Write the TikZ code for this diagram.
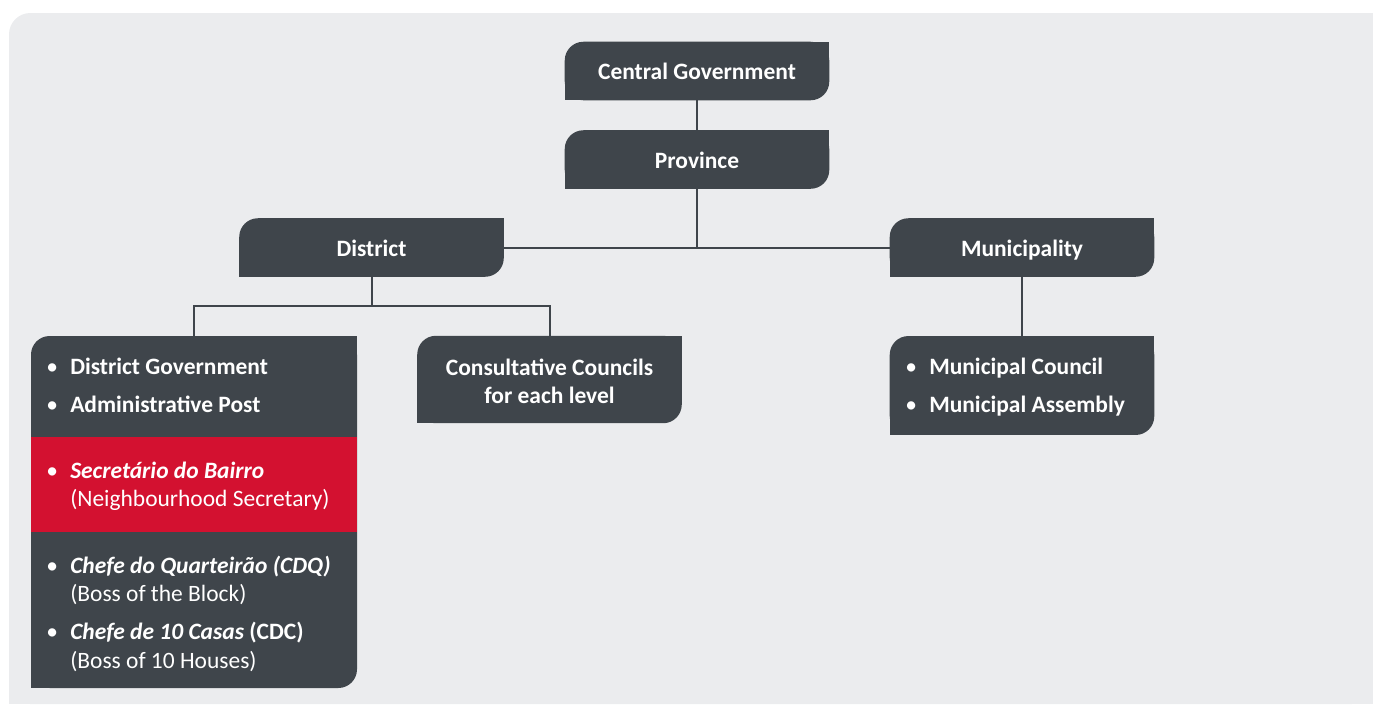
\documentclass[tikz,border=0pt]{standalone}
\usepackage{fontspec}
\setmainfont{Carlito}

\definecolor{boxgrey}{HTML}{3F454B}
\definecolor{bandred}{HTML}{D31130}
\definecolor{panelgrey}{HTML}{EBECEE}

\newcommand{\chartfont}{\fontsize{17.6pt}{21.2pt}\selectfont}
\newcommand{\bul}{\makebox[27pt]{\textbullet}}
% square off the top right and bottom left corners of a box
\newcommand{\sharpen}[1]{%
  \fill[boxgrey] (#1.north east) rectangle ++(-16pt,-16pt);
  \fill[boxgrey] (#1.south west) rectangle ++(16pt,16pt);}

\tikzset{
  tab/.style={fill=boxgrey, rounded corners=14pt, text=white, font=\chartfont\bfseries,
    minimum width=198.4pt, minimum height=43.9pt, inner sep=0pt, outer sep=0pt,
    text height=13pt, text depth=0pt},
  list/.style={text=white, font=\chartfont, inner sep=0pt, anchor=north west},
  link/.style={draw=boxgrey, line width=1.5pt},
}

\begin{document}
\begin{tikzpicture}[x=0.75pt, y=-0.75pt]
	\useasboundingbox (0,0) rectangle (1373,704);
	% panel
	\fill[panelgrey, rounded corners=16pt] (9,13) rectangle (1373,704);
	\fill[panelgrey] (1373,13) rectangle ++(-20pt,-20pt);
	\fill[panelgrey] (9,704) rectangle ++(20pt,20pt);
	\fill[panelgrey] (1373,704) rectangle ++(-20pt,20pt);

	% levels
	\node[tab] (central) at (697,71) {Central Government};
	\node[tab] (province) at (697,159.5) {Province};
	\node[tab] (district) at (371.5,247.5) {District};
	\node[tab] (municipality) at (1022,247.5) {Municipality};
	\node[tab, minimum width=244.5pt, minimum height=264pt] (local) at (194,512) {};
	\node[tab, minimum height=65.6pt] (consult) at (549.5,379.5) {};
	\node[tab, minimum height=74.2pt] (municipal) at (1022,385.5) {};
	\foreach \n in {central,province,district,municipality,local,consult,municipal}
		{\sharpen{\n}}

	% red band
	\node[fill=bandred, minimum width=244.5pt, minimum height=71.2pt, inner sep=0pt, outer sep=0pt] (bairro) at (194,484.5) {};

	% connectors
	\coordinate (fork) at (371.5,306);
	\draw[link] (central) -- (province);
	\draw[link] (province) -- (province |- district);
	\draw[link] (district) -- (municipality);
	\draw[link] (district) -- (fork);
	\draw[link] (local.north) |- (fork) -| (consult.north);
	\draw[link] (municipality) -- (municipal);

	% texts
	\node[list] (govpost) at (34,354.2) {\begin{tabular}{@{}l@{}l@{}}
		\bul & \textbf{District Government}\\[7.5pt]
		\bul & \textbf{Administrative Post}
	\end{tabular}};
	\node[list] (secretary) at (34,458) {\begin{tabular}{@{}l@{}l@{}}
		\bul & \textbf{\textit{Secretário do Bairro}}\\
		& (Neighbourhood Secretary)
	\end{tabular}};
	\node[list] (chefes) at (34,553.2) {\begin{tabular}{@{}l@{}l@{}}
		\bul & \textbf{\textit{Chefe do Quarteirão (CDQ)}}\\
		& (Boss of the Block)\\[7.5pt]
		\bul & \textbf{\textit{Chefe de 10 Casas} (CDC)}\\
		& (Boss of 10 Houses)
	\end{tabular}};
	\node[list, anchor=north, font=\chartfont\bfseries] (councils) at (549.5,355.2) {\begin{tabular}{@{}c@{}}
		Consultative Councils\\
		for each level
	\end{tabular}};
	\node[list] (assembly) at (893,354.2) {\begin{tabular}{@{}l@{}l@{}}
		\bul & \textbf{Municipal Council}\\[7.5pt]
		\bul & \textbf{Municipal Assembly}
	\end{tabular}};
\end{tikzpicture}
\end{document}
